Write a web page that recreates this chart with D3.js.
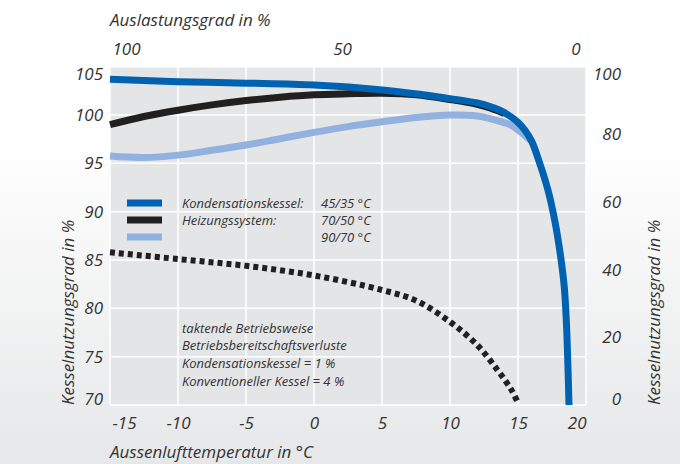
<!DOCTYPE html>
<html><head><meta charset="utf-8">
<script src="https://cdn.jsdelivr.net/npm/d3@7"></script>
<style>
html,body{margin:0;padding:0;background:#fff;}
text{font-family:"Open Sans",sans-serif;font-style:italic;fill:#333;}
</style></head>
<body><svg id="c" width="680" height="464"></svg>
<script>
// ---- data ----
const xTicks = [-15,-10,-5,0,5,10,15,20];
const yLeftTicks = [70,75,80,85,90,95,100,105];
const yRightTicks = [0,20,40,60,80,100];
const topTicks = [100,50,0];

const blueT = [-15,-10,-5,0,5,8,10,12,13,14,15,15.5,16,16.6,17.2,17.7,18.1,18.4,18.55,18.65,18.75];
const blueV = [103.7,103.45,103.3,103.1,102.6,102.1,101.7,101.25,100.85,100.25,99.25,98.45,97.3,95.0,92.25,89.1,85.7,82.25,78.8,75,70];

const blackT = [-15,-12.5,-10,-7.5,-5,-2.5,0,2.5,5,7.5,10,12,13,14];
const blackV = [99.0,99.85,100.5,101.05,101.5,101.85,102.1,102.2,102.25,102.1,101.6,101.1,100.7,100.15];

const lightT = [-15,-12.5,-10,-7.5,-5,-2.5,0,2.5,5,7.5,10,12,13,14.4,15.15,15.9];
const lightV = [95.75,95.6,95.85,96.35,96.9,97.55,98.2,98.8,99.3,99.75,100.0,99.9,99.6,99.0,98.3,97.4];

const dotT = [-15,-10,-5,0,5,7.5,10,12,13.5,14.5,15];
const dotV = [85.8,85.1,84.4,83.4,81.9,80.8,78.6,76.2,73.6,71.6,70.2];

const legendItems = [
  {label:"Kondensationskessel:", temp:"45/35 °C", color:"#0062b1"},
  {label:"Heizungssystem:", temp:"70/50 °C", color:"#221f1f"},
  {label:"", temp:"90/70 °C", color:"#93b1de"}
];
const noteLines = ["taktende Betriebsweise","Betriebsbereitschaftsverluste","Kondensationskessel = 1 %","Konventioneller Kessel = 4 %"];

// ---- layout ----
const L=110, R=586, T=66.7, B=405;
const svg = d3.select("#c");
const defs = svg.append("defs");
const g = defs.append("linearGradient").attr("id","bg").attr("x1",0).attr("y1",0).attr("x2",0).attr("y2",1);
g.append("stop").attr("offset","0.3").attr("stop-color","#ffffff");
g.append("stop").attr("offset","1").attr("stop-color","#e6e7e8");
svg.append("rect").attr("width",680).attr("height",464).attr("fill","url(#bg)");

const x = d3.scaleLinear().domain([-15,20]).range([L,R]);
const y = d3.scaleLinear().domain([70,105]).range([B,T]);
const yR = d3.scaleLinear().domain([0,100]).range([B,T]);
const xTop = d3.scaleLinear().domain([100,0]).range([L,R]);

svg.append("rect").attr("x",L).attr("y",T).attr("width",R-L).attr("height",B-T).attr("fill","#e4e5e7");
const grid = svg.append("g").attr("stroke","#fff").attr("stroke-width",1.5);
grid.selectAll("line.v").data(xTicks).join("line").attr("x1",d=>x(d)).attr("x2",d=>x(d)).attr("y1",T).attr("y2",B);
grid.selectAll("line.h").data(yLeftTicks).join("line").attr("y1",d=>y(d)).attr("y2",d=>y(d)).attr("x1",L).attr("x2",R);

const lineGen = d3.line().x(d=>x(d[0])).y(d=>y(d[1])).curve(d3.curveCatmullRom.alpha(0.5));
const zip=(a,b)=>a.map((t,i)=>[t,b[i]]);

svg.append("path").attr("d",lineGen(zip(dotT,dotV))).attr("fill","none").attr("stroke","#221f1f").attr("stroke-width",6).attr("stroke-dasharray","5,4");
svg.append("path").attr("d",lineGen(zip(lightT,lightV))).attr("fill","none").attr("stroke","#93b1de").attr("stroke-width",7);
svg.append("path").attr("d",lineGen(zip(blackT,blackV))).attr("fill","none").attr("stroke","#221f1f").attr("stroke-width",7);
svg.append("path").attr("d",lineGen(zip(blueT,blueV))).attr("fill","none").attr("stroke","#0062b1").attr("stroke-width",7);

// axes
const fs = 17;
const fmt = d=>String(d);
const bx = svg.append("g").attr("transform",`translate(0,${B})`).call(d3.axisBottom(x).tickValues(xTicks).tickFormat(fmt).tickSize(0).tickPadding(0));
bx.select(".domain").remove();
bx.selectAll("text").attr("font-size",fs).attr("y",18).attr("dy","0.35em").attr("fill","#333")
  .attr("text-anchor",(d,i)=> i===0?"start":(i===xTicks.length-1?"end":"middle"))
  .attr("dx",(d,i)=> i===0?2:0);
const tx = svg.append("g").attr("transform",`translate(0,${T})`).call(d3.axisTop(xTop).tickValues(topTicks).tickFormat(fmt).tickSize(0).tickPadding(0));
tx.select(".domain").remove();
tx.selectAll("text").attr("font-size",fs).attr("y",-18).attr("dy","0.35em").attr("fill","#333")
  .attr("text-anchor",(d,i)=> i===0?"start":(i===topTicks.length-1?"end":"middle"))
  .attr("dx",(d,i)=> i===0?2:-6);
const ly = svg.append("g").attr("transform",`translate(${L},0)`).call(d3.axisLeft(y).tickValues(yLeftTicks).tickFormat(fmt).tickSize(0).tickPadding(7));
ly.select(".domain").remove();
ly.selectAll("text").attr("font-size",fs).attr("fill","#333")
  .attr("y",d=> d===105?7:(d===70?-6:0));
const ry = svg.append("g").attr("transform",`translate(${R},0)`).call(d3.axisRight(yR).tickValues(yRightTicks).tickFormat(fmt).tickSize(0).tickPadding(0));
ry.select(".domain").remove();
ry.selectAll("text").attr("font-size",fs).attr("fill","#333").attr("text-anchor","end").attr("x",35)
  .attr("y",d=> d===100?7:(d===0?-6:0));

// titles
svg.append("text").attr("x",L).attr("y",20).attr("dy","0.35em").attr("font-size",fs).text("Auslastungsgrad in %");
svg.append("text").attr("x",L).attr("y",452).attr("dy","0.35em").attr("font-size",fs).text("Aussenlufttemperatur in °C");
svg.append("text").attr("transform",`translate(68,${B}) rotate(-90)`).attr("dy","0.35em").attr("font-size",fs).text("Kesselnutzungsgrad in %");
svg.append("text").attr("transform",`translate(654,${B}) rotate(-90)`).attr("dy","0.35em").attr("font-size",fs).text("Kesselnutzungsgrad in %");

// legend
const lg = svg.append("g");
legendItems.forEach((d,i)=>{
  const yy = 203 + i*17;
  lg.append("rect").attr("x",127).attr("y",yy-3.5).attr("width",35).attr("height",7).attr("fill",d.color);
  lg.append("text").attr("x",182).attr("y",yy).attr("dy","0.35em").attr("font-size",13).text(d.label);
  lg.append("text").attr("x",321).attr("y",yy).attr("dy","0.35em").attr("font-size",13).text(d.temp);
});
noteLines.forEach((t,i)=>{
  svg.append("text").attr("x",182).attr("y",328+i*17.7).attr("dy","0.35em").attr("font-size",13).text(t);
});
</script></body></html>
